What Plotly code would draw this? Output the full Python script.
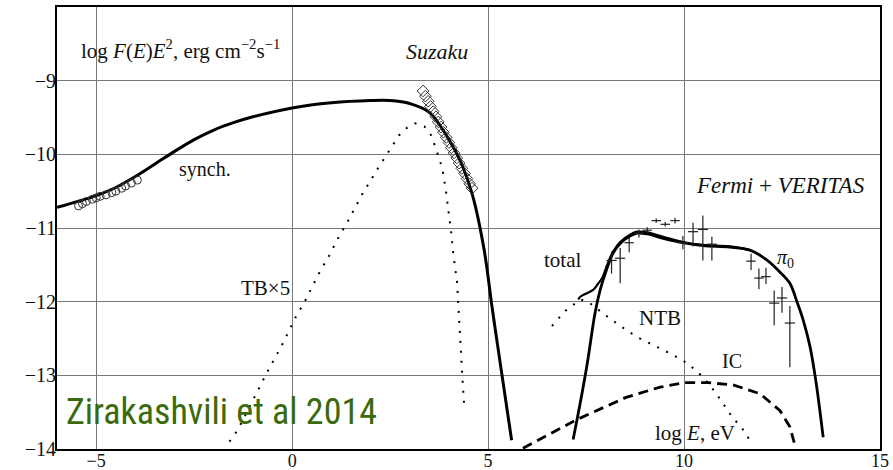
import plotly.graph_objects as go

# ---- model curves (log E [eV], log E^2 F(E) [erg cm^-2 s^-1]) ----
synch_x = [-6, -5, -4.5, -4, -3.5, -3, -2.5, -2, -1.5, -1, 0, 1, 2, 2.5, 3, 3.5, 4, 4.3, 4.6,
           4.9, 5.1, 5.3, 5.6]
synch_y = [-10.72, -10.56, -10.45, -10.30, -10.13, -9.96, -9.80, -9.67, -9.57, -9.49, -9.37,
           -9.30, -9.27, -9.27, -9.31, -9.43, -9.80, -10.10, -10.55, -11.30, -12.07, -12.80,
           -13.88]

tb_x = [-1.6, -1.45, -1.3, -1.0, -0.64, -0.26, 0.08, 0.33, 0.69, 0.94, 1.17, 1.43, 1.79, 2.19,
        2.45, 2.73, 2.93, 3.14, 3.37, 3.52, 3.62, 3.70, 3.78, 3.85, 3.93, 4.06, 4.11, 4.21,
        4.26, 4.34, 4.39]
tb_y = [-13.9, -13.79, -13.65, -13.33, -12.96, -12.59, -12.22, -11.99, -11.61, -11.38, -11.14,
        -10.9, -10.54, -10.19, -9.97, -9.74, -9.64, -9.58, -9.62, -9.71, -9.85, -9.98, -10.10,
        -10.25, -10.52, -11.07, -11.34, -11.75, -12.29, -13.0, -13.42]

ntb_x = [6.63, 6.96, 7.35, 7.55, 7.96, 8.37, 8.8, 9.21, 9.67, 10.1, 10.48, 10.8, 11.22, 11.56, 11.68]
ntb_y = [-12.33, -12.13, -11.97, -12.0, -12.17, -12.33, -12.48, -12.59, -12.71, -12.84,
         -13.02, -13.23, -13.56, -13.77, -13.89]

ic_x = [5.89, 6.5, 7.27, 7.68, 8.52, 9.39, 10.02, 10.61, 11.25, 11.94, 12.45, 12.7, 12.83]
ic_y = [-13.99, -13.82, -13.60, -13.50, -13.30, -13.16, -13.10, -13.10, -13.13, -13.25,
        -13.48, -13.70, -13.95]

pi0_x = [7.17, 7.35, 7.53, 7.73, 7.86, 8.0, 8.19, 8.37, 8.62, 8.8, 9.06, 9.47, 9.97, 10.48,
         11.17, 11.68, 12.1, 12.45, 12.7, 12.88, 13.04, 13.21, 13.37, 13.55]
pi0_y = [-13.87, -13.38, -12.84, -12.15, -11.84, -11.6, -11.34, -11.21, -11.11, -11.07, -11.08,
         -11.14, -11.2, -11.24, -11.26, -11.3, -11.43, -11.6, -11.75, -12.0, -12.25, -12.6,
         -13.1, -13.84]

total_x = [7.30, 7.36, 7.5, 7.68, 7.8, 7.91, 8.06, 8.19, 8.37, 8.62, 8.8, 9.06, 9.47, 9.97,
           10.48, 11.17, 11.68]
total_y = [-11.97, -11.93, -11.89, -11.84, -11.76, -11.68, -11.47, -11.32, -11.19, -11.09,
           -11.05, -11.06, -11.12, -11.19, -11.23, -11.25, -11.30]

# ---- observations ----
radio_x = [-5.45, -5.35, -5.25, -5.1, -5.0, -4.9, -4.75, -4.6, -4.5, -4.35, -4.25, -4.1, -3.95]
radio_y = [-10.70, -10.67, -10.64, -10.61, -10.59, -10.57, -10.55, -10.52, -10.50, -10.46,
           -10.43, -10.39, -10.35]

suzaku_x = [3.34, 3.40, 3.47, 3.53, 3.60, 3.67, 3.73, 3.80, 3.86, 3.93, 4.00, 4.06, 4.13, 4.20,
            4.26, 4.33, 4.40, 4.46, 4.53, 4.59]
suzaku_y = [-9.14, -9.21, -9.28, -9.35, -9.42, -9.49, -9.56, -9.63, -9.70, -9.77, -9.84, -9.91,
            -9.98, -10.05, -10.12, -10.19, -10.26, -10.33, -10.40, -10.46]

gamma_x = [8.15, 8.37, 8.6, 8.85, 9.06, 9.29, 9.52, 9.77, 9.97, 10.23, 10.48, 10.71,
           11.71, 11.91, 12.09, 12.3, 12.5, 12.7]
gamma_y = [-11.44, -11.41, -11.2, -11.07, -11.03, -10.9, -10.95, -10.9, -11.2, -11.05, -11.02,
           -11.22, -11.45, -11.68, -11.66, -12.02, -11.95, -12.29]
gamma_err_up = [0.12, 0.14, 0.07, 0.05, 0.04, 0.03, 0.03, 0.04, 0.09, 0.12, 0.19, 0.10,
                0.10, 0.13, 0.12, 0.17, 0.15, 0.23]
gamma_err_dn = [0.18, 0.34, 0.13, 0.06, 0.04, 0.03, 0.03, 0.04, 0.09, 0.20, 0.42, 0.22,
                0.12, 0.15, 0.10, 0.30, 0.20, 0.60]
gamma_err_x = [0.13, 0.13, 0.12, 0.12, 0.12, 0.12, 0.12, 0.12, 0.13, 0.13, 0.13, 0.13,
               0.12, 0.12, 0.12, 0.13, 0.13, 0.13]

x_ticks = [-5, 0, 5, 10, 15]
y_ticks = [-9, -10, -11, -12, -13, -14]

SERIF = "Liberation Serif, Times New Roman, serif"

fig = go.Figure()

fig.add_trace(go.Scatter(x=tb_x, y=tb_y, mode="lines",
                         line=dict(color="black", width=2, dash="2px,8px")))
fig.add_trace(go.Scatter(x=ntb_x, y=ntb_y, mode="lines",
                         line=dict(color="black", width=2, dash="2px,8px")))
fig.add_trace(go.Scatter(x=ic_x, y=ic_y, mode="lines",
                         line=dict(color="black", width=2.8, dash="10px,6px")))
fig.add_trace(go.Scatter(x=synch_x, y=synch_y, mode="lines", line_shape="spline",
                         line=dict(color="black", width=3)))
fig.add_trace(go.Scatter(x=pi0_x, y=pi0_y, mode="lines", line_shape="spline",
                         line=dict(color="black", width=2.8)))
fig.add_trace(go.Scatter(x=total_x, y=total_y, mode="lines", line_shape="spline",
                         line=dict(color="black", width=2.2)))

fig.add_trace(go.Scatter(x=radio_x, y=radio_y, mode="markers",
                         marker=dict(symbol="circle-open", size=8, color="#333",
                                     line=dict(width=1))))
fig.add_trace(go.Scatter(x=suzaku_x, y=suzaku_y, mode="markers",
                         marker=dict(symbol="diamond-open", size=9, color="#333",
                                     line=dict(width=1))))
fig.add_trace(go.Scatter(x=gamma_x, y=gamma_y, mode="markers",
                         marker=dict(size=1, color="#222"),
                         error_y=dict(type="data", symmetric=False, array=gamma_err_up,
                                      arrayminus=gamma_err_dn, width=0, thickness=1.2,
                                      color="#222"),
                         error_x=dict(type="data", array=gamma_err_x, width=0, thickness=1.2,
                                      color="#222")))

labels = [
    (-2.86, -8.58, "log <i>F</i>(<i>E</i>)<i>E</i><sup>2</sup>, erg cm<sup>\u22122</sup>s<sup>\u22121</sup>", 21),
    (3.70, -8.61, "<i>Suzaku</i>", 22),
    (-2.22, -10.21, "synch.", 20),
    (12.47, -10.42, "<i>Fermi</i> + <i>VERITAS</i>", 23),
    (-0.69, -11.82, "TB\u00d75", 21),
    (6.91, -11.44, "total", 21),
    (9.39, -12.22, "NTB", 21),
    (11.22, -12.81, "IC", 20),
    (12.6, -11.41, "<i>\u03c0</i><sub>0</sub>", 20),
    (10.28, -13.78, "log <i>E</i>, eV", 21),
]
for lx, ly, txt, fs in labels:
    fig.add_annotation(x=lx, y=ly, text=txt, showarrow=False,
                       font=dict(family=SERIF, size=fs, color="#111"))

fig.add_annotation(x=-1.79, y=-13.5, text="Zirakashvili et al 2014", showarrow=False,
                   font=dict(family="Liberation Sans Narrow, Roboto Condensed, Liberation Sans",
                             size=36, color="#3b6a0c"))

axis_common = dict(showgrid=True, gridcolor="#777", gridwidth=1, zeroline=False,
                   showline=True, linecolor="black", linewidth=2, mirror=True,
                   automargin=False, ticks="")

fig.update_xaxes(range=[-6, 15], tickvals=x_ticks,
                 ticktext=[f"\u2212{abs(v)}" if v < 0 else str(v) for v in x_ticks],
                 tickfont=dict(family=SERIF, size=18, color="#111"),
                 ticklabelstandoff=-6, **axis_common)
fig.update_yaxes(range=[-14, -8], tickvals=y_ticks,
                 ticktext=[f"\u2212{abs(v)}" for v in y_ticks],
                 tickfont=dict(family=SERIF, size=20, color="#111"),
                 ticklabelstandoff=-5, **axis_common)

fig.update_layout(width=893, height=470, margin=dict(l=57, r=13, t=7, b=21),
                  plot_bgcolor="white", paper_bgcolor="white", showlegend=False)

fig.write_html("out.html")
